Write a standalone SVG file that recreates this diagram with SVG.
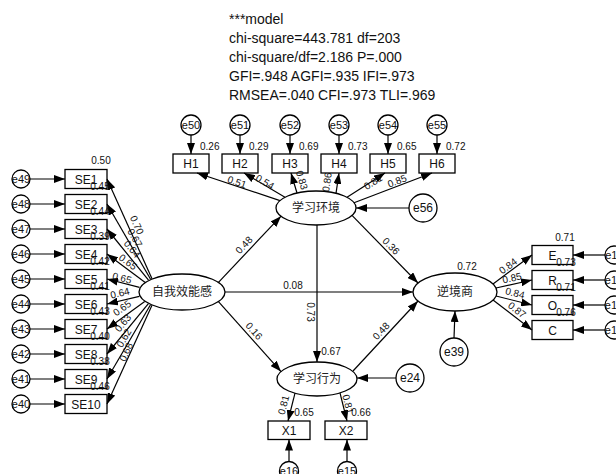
<svg xmlns="http://www.w3.org/2000/svg" width="616" height="474" viewBox="0 0 616 474">
<defs>
<marker id="ah" markerWidth="11" markerHeight="8" refX="11" refY="4" orient="auto" markerUnits="userSpaceOnUse"><path d="M0,0 L11,4 L0,8 z" fill="#000"/></marker>
<style>
.box{fill:#fff;stroke:#000;stroke-width:1.3}
.ell{fill:#fff;stroke:#000;stroke-width:1.3}
.ln{stroke:#000;stroke-width:1.2;fill:none;marker-end:url(#ah)}
text{font-family:"Liberation Sans",Arial,sans-serif;fill:#111}
.nl{font-size:12px;text-anchor:middle}
.cn{font-family:"Liberation Sans","Noto Sans CJK SC",sans-serif;font-size:12px;text-anchor:middle;fill:#222}
.el{font-size:11px;text-anchor:middle}
.eb{font-size:12px;text-anchor:middle}
.n{font-size:10px;text-anchor:middle}
.ns{font-size:10px;text-anchor:start}
.hd{font-size:14px}
</style>
</defs>
<rect width="616" height="474" fill="#fff"/>
<g id="header">
<text class="hd" x="229" y="24">***model</text>
<text class="hd" x="229" y="43">chi-square=443.781 df=203</text>
<text class="hd" x="229" y="62">chi-square/df=2.186 P=.000</text>
<text class="hd" x="229" y="81">GFI=.948 AGFI=.935 IFI=.973</text>
<text class="hd" x="229" y="100">RMSEA=.040 CFI=.973 TLI=.969</text>
</g>
<g id="latent-zwxn"><ellipse class="ell" cx="182" cy="292" rx="43" ry="18"/><text class="cn" x="182" y="296">自我效能感</text></g>
<g id="latent-xxhj"><ellipse class="ell" cx="316" cy="208" rx="40" ry="17"/><text class="cn" x="316" y="212">学习环境</text></g>
<g id="latent-njs"><ellipse class="ell" cx="455" cy="292" rx="42" ry="19"/><text class="cn" x="455" y="296">逆境商</text></g>
<g id="latent-xxxw"><ellipse class="ell" cx="317" cy="379" rx="40" ry="17"/><text class="cn" x="317" y="383">学习行为</text></g>
<g id="SE1"><rect class="box" x="65" y="169.5" width="42" height="19"/><text class="nl" x="86" y="183.5">SE1</text></g>
<g id="SE2"><rect class="box" x="65" y="194.5" width="42" height="19"/><text class="nl" x="86" y="208.5">SE2</text></g>
<g id="SE3"><rect class="box" x="65" y="219.5" width="42" height="19"/><text class="nl" x="86" y="233.5">SE3</text></g>
<g id="SE4"><rect class="box" x="65" y="244.5" width="42" height="19"/><text class="nl" x="86" y="258.5">SE4</text></g>
<g id="SE5"><rect class="box" x="65" y="269.5" width="42" height="19"/><text class="nl" x="86" y="283.5">SE5</text></g>
<g id="SE6"><rect class="box" x="65" y="294.5" width="42" height="19"/><text class="nl" x="86" y="308.5">SE6</text></g>
<g id="SE7"><rect class="box" x="65" y="319.5" width="42" height="19"/><text class="nl" x="86" y="333.5">SE7</text></g>
<g id="SE8"><rect class="box" x="65" y="344.5" width="42" height="19"/><text class="nl" x="86" y="358.5">SE8</text></g>
<g id="SE9"><rect class="box" x="65" y="369.5" width="42" height="19"/><text class="nl" x="86" y="383.5">SE9</text></g>
<g id="SE10"><rect class="box" x="65" y="394.5" width="42" height="19"/><text class="nl" x="86" y="408.5">SE10</text></g>
<g id="e49"><circle class="ell" cx="21" cy="179" r="9"/><text class="el" x="21" y="183">e49</text></g>
<g id="e48"><circle class="ell" cx="21" cy="204" r="9"/><text class="el" x="21" y="208">e48</text></g>
<g id="e47"><circle class="ell" cx="21" cy="229" r="9"/><text class="el" x="21" y="233">e47</text></g>
<g id="e46"><circle class="ell" cx="21" cy="254" r="9"/><text class="el" x="21" y="258">e46</text></g>
<g id="e45"><circle class="ell" cx="21" cy="279" r="9"/><text class="el" x="21" y="283">e45</text></g>
<g id="e44"><circle class="ell" cx="21" cy="304" r="9"/><text class="el" x="21" y="308">e44</text></g>
<g id="e43"><circle class="ell" cx="21" cy="329" r="9"/><text class="el" x="21" y="333">e43</text></g>
<g id="e42"><circle class="ell" cx="21" cy="354" r="9"/><text class="el" x="21" y="358">e42</text></g>
<g id="e41"><circle class="ell" cx="21" cy="379" r="9"/><text class="el" x="21" y="383">e41</text></g>
<g id="e40"><circle class="ell" cx="21" cy="404" r="9"/><text class="el" x="21" y="408">e40</text></g>
<g id="H1"><rect class="box" x="173" y="154" width="36" height="19"/><text class="nl" x="191" y="168">H1</text></g>
<g id="H2"><rect class="box" x="222" y="154" width="36" height="19"/><text class="nl" x="240" y="168">H2</text></g>
<g id="H3"><rect class="box" x="272" y="154" width="36" height="19"/><text class="nl" x="290" y="168">H3</text></g>
<g id="H4"><rect class="box" x="321" y="154" width="36" height="19"/><text class="nl" x="339" y="168">H4</text></g>
<g id="H5"><rect class="box" x="370" y="154" width="36" height="19"/><text class="nl" x="388" y="168">H5</text></g>
<g id="H6"><rect class="box" x="419" y="154" width="36" height="19"/><text class="nl" x="437" y="168">H6</text></g>
<g id="e50"><circle class="ell" cx="191" cy="125" r="10"/><text class="el" x="191" y="129">e50</text></g>
<g id="e51"><circle class="ell" cx="240" cy="125" r="10"/><text class="el" x="240" y="129">e51</text></g>
<g id="e52"><circle class="ell" cx="290" cy="125" r="10"/><text class="el" x="290" y="129">e52</text></g>
<g id="e53"><circle class="ell" cx="339" cy="125" r="10"/><text class="el" x="339" y="129">e53</text></g>
<g id="e54"><circle class="ell" cx="388" cy="125" r="10"/><text class="el" x="388" y="129">e54</text></g>
<g id="e55"><circle class="ell" cx="437" cy="125" r="10"/><text class="el" x="437" y="129">e55</text></g>
<g id="e56"><circle class="ell" cx="423" cy="208" r="14"/><text class="eb" x="423" y="212">e56</text></g>
<g id="e39"><circle class="ell" cx="454" cy="352" r="14"/><text class="eb" x="454" y="356">e39</text></g>
<g id="e24"><circle class="ell" cx="410" cy="378" r="14"/><text class="eb" x="410" y="382">e24</text></g>
<g id="E"><rect class="box" x="532" y="245.5" width="41" height="19"/><text class="nl" x="552.5" y="259.5">E</text></g>
<g id="R"><rect class="box" x="532" y="270.5" width="41" height="19"/><text class="nl" x="552.5" y="284.5">R</text></g>
<g id="O"><rect class="box" x="532" y="295.5" width="41" height="19"/><text class="nl" x="552.5" y="309.5">O</text></g>
<g id="C"><rect class="box" x="532" y="320.5" width="41" height="19"/><text class="nl" x="552.5" y="334.5">C</text></g>
<g id="e11"><circle class="ell" cx="614" cy="255" r="9"/><text class="el" x="614" y="259">e11</text></g>
<g id="e12"><circle class="ell" cx="614" cy="280" r="9"/><text class="el" x="614" y="284">e12</text></g>
<g id="e13"><circle class="ell" cx="614" cy="305" r="9"/><text class="el" x="614" y="309">e13</text></g>
<g id="e14"><circle class="ell" cx="614" cy="330" r="9"/><text class="el" x="614" y="334">e14</text></g>
<g id="X1"><rect class="box" x="268" y="421" width="42" height="18.5"/><text class="nl" x="289" y="434.5">X1</text></g>
<g id="X2"><rect class="box" x="325" y="421" width="42" height="18.5"/><text class="nl" x="346" y="434.5">X2</text></g>
<g id="e16"><circle class="ell" cx="289" cy="471" r="9.5"/><text class="el" x="289" y="475">e16</text></g>
<g id="e15"><circle class="ell" cx="347" cy="471" r="9.5"/><text class="el" x="347" y="475">e15</text></g>
<g id="connectors">
<line class="ln" x1="30" y1="179" x2="65" y2="179"/>
<line class="ln" x1="30" y1="204" x2="65" y2="204"/>
<line class="ln" x1="30" y1="229" x2="65" y2="229"/>
<line class="ln" x1="30" y1="254" x2="65" y2="254"/>
<line class="ln" x1="30" y1="279" x2="65" y2="279"/>
<line class="ln" x1="30" y1="304" x2="65" y2="304"/>
<line class="ln" x1="30" y1="329" x2="65" y2="329"/>
<line class="ln" x1="30" y1="354" x2="65" y2="354"/>
<line class="ln" x1="30" y1="379" x2="65" y2="379"/>
<line class="ln" x1="30" y1="404" x2="65" y2="404"/>
<line class="ln" x1="152" y1="278.7" x2="107" y2="179"/>
<line class="ln" x1="150.6" y1="279.3" x2="107" y2="204"/>
<line class="ln" x1="148.5" y1="280.2" x2="107" y2="229"/>
<line class="ln" x1="144.9" y1="282.2" x2="107" y2="254"/>
<line class="ln" x1="139.5" y1="287.3" x2="107" y2="279"/>
<line class="ln" x1="139.3" y1="296.4" x2="107" y2="304"/>
<line class="ln" x1="144.7" y1="301.6" x2="107" y2="329"/>
<line class="ln" x1="148.4" y1="303.7" x2="107" y2="354"/>
<line class="ln" x1="150.5" y1="304.7" x2="107" y2="379"/>
<line class="ln" x1="152" y1="305.3" x2="107" y2="404"/>
<line class="ln" x1="191" y1="135" x2="191" y2="154"/>
<line class="ln" x1="240" y1="135" x2="240" y2="154"/>
<line class="ln" x1="290" y1="135" x2="290" y2="154"/>
<line class="ln" x1="339" y1="135" x2="339" y2="154"/>
<line class="ln" x1="388" y1="135" x2="388" y2="154"/>
<line class="ln" x1="437" y1="135" x2="437" y2="154"/>
<line class="ln" x1="280" y1="200.6" x2="197" y2="173"/>
<line class="ln" x1="285" y1="197.3" x2="244" y2="173"/>
<line class="ln" x1="297" y1="193" x2="291" y2="173"/>
<line class="ln" x1="336" y1="193.3" x2="339" y2="173"/>
<line class="ln" x1="347" y1="197.3" x2="385" y2="173"/>
<line class="ln" x1="354" y1="202.7" x2="432" y2="173"/>
<line class="ln" x1="409" y1="208" x2="356" y2="208"/>
<line class="ln" x1="218" y1="282.8" x2="281" y2="216.2"/>
<line class="ln" x1="218" y1="301.2" x2="281" y2="371.6"/>
<line class="ln" x1="225" y1="292" x2="413" y2="292"/>
<line class="ln" x1="352" y1="215.4" x2="418" y2="283"/>
<line class="ln" x1="317" y1="225" x2="317" y2="362"/>
<line class="ln" x1="353" y1="371" x2="418" y2="301"/>
<line class="ln" x1="454" y1="338" x2="455" y2="311"/>
<line class="ln" x1="396" y1="378" x2="357" y2="378"/>
<line class="ln" x1="493" y1="284" x2="532" y2="255"/>
<line class="ln" x1="496" y1="288" x2="532" y2="280"/>
<line class="ln" x1="496" y1="296" x2="532" y2="305"/>
<line class="ln" x1="493" y1="300" x2="532" y2="330"/>
<line class="ln" x1="605" y1="255" x2="573" y2="255"/>
<line class="ln" x1="605" y1="280" x2="573" y2="280"/>
<line class="ln" x1="605" y1="305" x2="573" y2="305"/>
<line class="ln" x1="605" y1="330" x2="573" y2="330"/>
<line class="ln" x1="295" y1="393.2" x2="288" y2="421"/>
<line class="ln" x1="340" y1="392.9" x2="347" y2="421"/>
<line class="ln" x1="289" y1="461.5" x2="289" y2="439.5"/>
<line class="ln" x1="347" y1="461.5" x2="347" y2="439.5"/>
<g id="labels">
<text class="n" transform="translate(137,225) rotate(65.8)" y="3.5">0.70</text>
<text class="n" transform="translate(135,238) rotate(59.9)" y="3.5">0.67</text>
<text class="n" transform="translate(132,249) rotate(51)" y="3.5">0.64</text>
<text class="n" transform="translate(128,262) rotate(36.6)" y="3.5">0.65</text>
<text class="n" transform="translate(122,278) rotate(14.3)" y="3.5">0.65</text>
<text class="n" transform="translate(120,293) rotate(-13.2)" y="3.5">0.64</text>
<text class="n" transform="translate(122,308) rotate(-36)" y="3.5">0.65</text>
<text class="n" transform="translate(123,323) rotate(-50.5)" y="3.5">0.63</text>
<text class="n" transform="translate(124,338) rotate(-59.7)" y="3.5">0.62</text>
<text class="n" transform="translate(126,352) rotate(-65.5)" y="3.5">0.68</text>
<text class="n" x="101" y="164">0.50</text>
<text class="n" x="100" y="190">0.45</text>
<text class="n" x="100" y="215">0.44</text>
<text class="n" x="100" y="240">0.39</text>
<text class="n" x="100" y="265">0.42</text>
<text class="n" x="100" y="290">0.41</text>
<text class="n" x="100" y="315">0.43</text>
<text class="n" x="100" y="340">0.40</text>
<text class="n" x="100" y="365">0.38</text>
<text class="n" x="100" y="390">0.46</text>
<text class="ns" x="200" y="150">0.26</text>
<text class="ns" x="249" y="150">0.29</text>
<text class="ns" x="299" y="150">0.69</text>
<text class="ns" x="348" y="150">0.73</text>
<text class="ns" x="397" y="150">0.65</text>
<text class="ns" x="446" y="150">0.72</text>
<text class="n" transform="translate(237,182) rotate(18.4)" y="3.5">0.51</text>
<text class="n" transform="translate(265,182) rotate(30.6)" y="3.5">0.54</text>
<text class="n" transform="translate(302,180) rotate(73.3)" y="3.5">0.83</text>
<text class="n" transform="translate(327,182) rotate(-81.6)" y="3.5">0.86</text>
<text class="n" transform="translate(373,182) rotate(-32.6)" y="3.5">0.81</text>
<text class="n" transform="translate(397,181) rotate(-20.8)" y="3.5">0.85</text>
<text class="n" transform="translate(244,245) rotate(-46.7)" y="3.5">0.48</text>
<text class="n" transform="translate(254,331) rotate(48.2)" y="3.5">0.16</text>
<text class="n" x="293" y="288.5">0.08</text>
<text class="n" transform="translate(391,246) rotate(45.7)" y="3.5">0.36</text>
<text class="n" transform="translate(310,312) rotate(90)" y="3.5">0.73</text>
<text class="n" x="331" y="354.5">0.67</text>
<text class="n" transform="translate(381,331) rotate(-47.1)" y="3.5">0.48</text>
<text class="n" x="467" y="269.5">0.72</text>
<text class="n" transform="translate(508,266) rotate(-36.6)" y="3.5">0.84</text>
<text class="n" transform="translate(512,278) rotate(-12.5)" y="3.5">0.85</text>
<text class="n" transform="translate(515,293) rotate(14)" y="3.5">0.84</text>
<text class="n" transform="translate(517,310) rotate(37.6)" y="3.5">0.87</text>
<text class="n" x="565" y="240.5">0.71</text>
<text class="n" x="566" y="265.5">0.73</text>
<text class="n" x="566" y="290.5">0.71</text>
<text class="n" x="566" y="315.5">0.76</text>
<text class="n" transform="translate(283.5,405) rotate(-76)" y="3.5">0.81</text>
<text class="n" transform="translate(348,404) rotate(76)" y="3.5">0.81</text>
<text class="n" x="304" y="415.5">0.65</text>
<text class="n" x="361" y="415.5">0.66</text>
</g>
</g>
</svg>
